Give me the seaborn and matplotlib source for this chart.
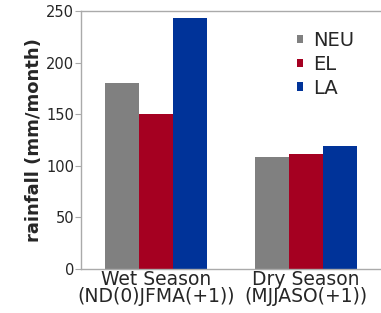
import matplotlib
matplotlib.use("Agg")
import matplotlib.pyplot as plt
import seaborn as sns
import pandas as pd

seasons = ["Wet Season\n(ND(0)JFMA(+1))", "Dry Season\n(MJJASO(+1))"]
groups = ["NEU", "EL", "LA"]
neu = [180, 109]
el = [150, 111]
la = [243, 119]
colors = ["#808080", "#A50021", "#003399"]

rows = []
for g, vals in zip(groups, [neu, el, la]):
    for s, v in zip(seasons, vals):
        rows.append({"season": s, "group": g, "rain": v})
df = pd.DataFrame(rows)

sns.set_style("white")
plt.rcParams['font.family'] = ['DejaVu Sans']

fig = plt.figure(figsize=(3.81, 3.13), dpi=100)
ax = fig.add_axes([0.2126, 0.1406, 0.7874, 0.8243])
sns.barplot(data=df, x="season", y="rain", hue="group", palette=colors,
            width=0.68, saturation=1, ax=ax, order=seasons, hue_order=groups,
            linewidth=0, edgecolor="none")
ax.set_xlim(-0.5, 1.5)
ax.set_ylim(0, 250)
ax.set_yticks([0, 50, 100, 150, 200, 250])
ax.set_xlabel("")
ax.set_ylabel("rainfall (mm/month)", fontsize=13, fontweight="bold", labelpad=2)
ax.tick_params(axis="y", labelsize=10.5, length=4, color="#aaaaaa", left=True, pad=1)
ax.tick_params(axis="x", labelsize=13.5, length=0, pad=1)
for lab in ax.get_xticklabels():
    lab.set_linespacing(0.85)
for sp in ["left", "bottom", "top"]:
    ax.spines[sp].set_color("#aaaaaa")
    ax.spines[sp].set_linewidth(1)
ax.spines["right"].set_visible(False)
leg = ax.legend(loc="upper left", bbox_to_anchor=(0.661, 0.99), frameon=False,
                fontsize=14, handlelength=0.32, handleheight=0.32,
                handletextpad=0.5, labelspacing=0.25)
fig.savefig("out.png", dpi=100)
